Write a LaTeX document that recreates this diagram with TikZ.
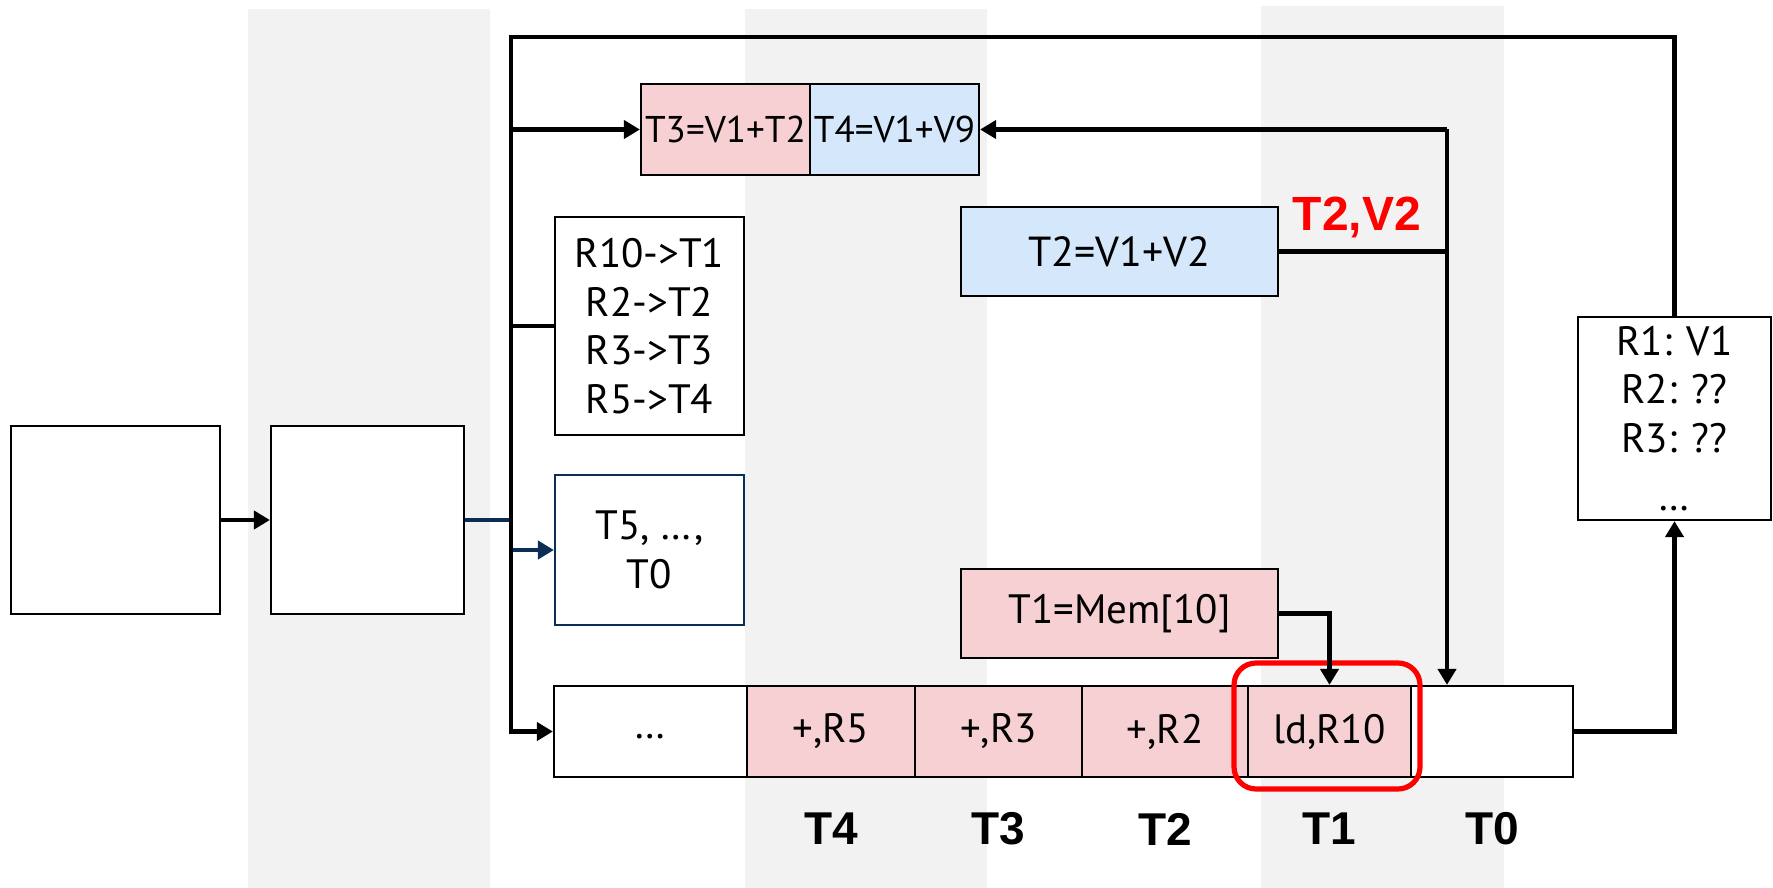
\documentclass[tikz,border=0pt]{standalone}
\usepackage{fontspec}
\setmainfont{PT Sans}
\newfontfamily\labelfont{Liberation Sans}
\usetikzlibrary{arrows.meta}
\definecolor{bandgray}{HTML}{F2F2F2}
\definecolor{pinkfill}{HTML}{F6D0D2}
\definecolor{bluefill}{HTML}{D5E8FB}
\definecolor{navyline}{RGB}{12,45,85}
\definecolor{hotred}{HTML}{FF0000}

\begin{document}
\begin{tikzpicture}[x=0.5pt,y=-0.5pt,
  box/.style={draw=black, line width=1.1pt, fill=white, inner sep=0pt, align=center,
    font=\fontsize{20.5}{24.5}\selectfont},
  pinkbox/.style={box, fill=pinkfill},
  bluebox/.style={box, fill=bluefill},
  wire/.style={draw=black, line width=2.3pt},
  arr/.style={wire, -{Triangle[length=8pt,width=9pt]}},
  navyarr/.style={draw=navyline, line width=2.3pt, -{Triangle[length=8pt,width=9pt]}},
  stage/.style={font=\labelfont\bfseries\fontsize{23}{23}\selectfont, inner sep=0pt},
]
\useasboundingbox (0,0) rectangle (1773,888);

% pipeline stage bands
\fill[bandgray] (248,9) rectangle (490,888);
\fill[bandgray] (745,9) rectangle (987,888);
\fill[bandgray] (1261,6) rectangle (1504,888);

% front-end blocks
\node[box, minimum width=104.5pt, minimum height=94pt] (A) at (115.5,520) {};
\node[box, minimum width=96.5pt, minimum height=94pt] (B) at (367.5,520) {};

% rename table and free list
\node[box, minimum width=94.5pt, minimum height=109pt, font=\fontsize{20.5}{24.3}\selectfont] (ren) at (649.5,326)
  {R10->T1\\R2->T2\\R3->T3\\R5->T4};
\node[box, draw=navyline, minimum width=94.5pt, minimum height=75pt] (free) at (649.5,550)
  {T5, …,\\T0};

% issue queue
\node[pinkbox, minimum width=84.5pt, minimum height=45.5pt, font=\fontsize{18.6}{20}\selectfont] (T3) at (725.5,129.5) {T3=V1+T2};
\node[bluebox, minimum width=84.5pt, minimum height=45.5pt, font=\fontsize{18.6}{20}\selectfont] (T4) at (894.5,129.5) {T4=V1+V9};

% functional units
\node[bluebox, minimum width=158.5pt, minimum height=44.5pt, font=\fontsize{21}{24}\selectfont] (add) at (1119.5,251.5) {T2=V1+V2};
\node[pinkbox, minimum width=158.5pt, minimum height=44.5pt] (ld) at (1119.5,613.5) {T1=Mem[10]};

% reorder buffer
\node[box, minimum width=96.5pt, minimum height=45.5pt, text height=0pt, text depth=0pt] (c0) at (650.5,731.5) {\raisebox{-3.5pt}{…}};
\node[pinkbox, minimum width=84pt, minimum height=45.5pt] (c1) at (831,731.5) {+,R5};
\node[pinkbox, minimum width=83.5pt, minimum height=45.5pt] (c2) at (998.5,731.5) {+,R3};
\node[pinkbox, minimum width=83pt, minimum height=45.5pt] (c3) at (1165,731.5) {+,R2};
\node[pinkbox, minimum width=81.5pt, minimum height=45.5pt] (c4) at (1329.5,731.5) {ld,R10};
\node[box, minimum width=81pt, minimum height=45.5pt] (c5) at (1492,731.5) {};

% architectural register file
\node[box, minimum width=96.5pt, minimum height=101.5pt, font=\fontsize{20.5}{24.2}\selectfont] (rf) at (1674.5,418.5)
  {R1: V1\\R2: ??\\R3: ??\\[5pt]…};

% head-of-ROB highlight
\draw[hotred, line width=2.6pt, rounded corners=11pt] (1234,663) rectangle (1420,789);

% stage tags
\node[stage] (s4) at (831,829) {T4};
\node[stage] (s3) at (998.5,829) {T3};
\node[stage] (s2) at (1165,829) {T2};
\node[stage] (s1) at (1329.5,829) {T1};
\node[stage] (s0) at (1492,829) {T0};
\node[font=\labelfont\bfseries\fontsize{24}{24}\selectfont, text=hotred, inner sep=0pt] (bcast) at (1357,217) {T2,V2};

% junction points
\coordinate (top) at (511,37);
\coordinate (j1) at (511,129.5);
\coordinate (j2) at (511,326);
\coordinate (n1) at (511,520);
\coordinate (v1) at (1447,129.5);

% connectors
\draw[arr] (A.east) -- (B.west);
\draw[navyarr] (B.east) -- (n1) |- (free.west);
\draw[arr] (rf.north) |- (top) |- (c0.west);
\draw[arr] (j1) -- (T3.west);
\draw[wire] (j2) -- (ren.west);
\draw[arr] (v1) -- (T4.east);
\draw[arr] (v1) -- (v1 |- c5.north);
\draw[wire] (add.east) -- (add.east -| v1);
\draw[arr] (ld.east) -| (c4.north);
\draw[arr] (c5.east) -| (rf.south);
\end{tikzpicture}
\end{document}
